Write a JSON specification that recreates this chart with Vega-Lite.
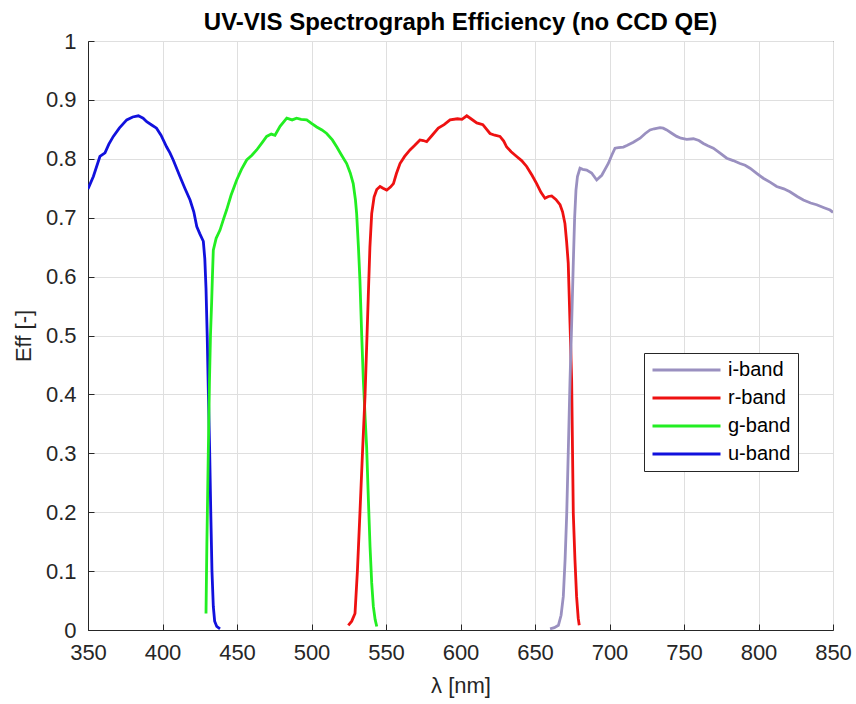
{
  "$schema": "https://vega.github.io/schema/vega-lite/v6.json",
  "width": 745,
  "height": 589,
  "autosize": {"type": "none"},
  "padding": {"left": 88, "top": 41, "right": 23, "bottom": 74},
  "background": "white",
  "title": {"text": "UV-VIS Spectrograph Efficiency (no CCD QE)", "fontSize": 24, "fontWeight": "bold", "color": "#000000", "font": "Liberation Sans", "offset": -5, "anchor": "middle"},
  "config": {
    "font": "Liberation Sans",
    "view": {"stroke": "#262626", "strokeWidth": 1},
    "axis": {
      "labelFontSize": 22, "labelColor": "#262626", "titleFontSize": 22, "titleFontWeight": "normal", "titleColor": "#262626",
      "domainColor": "#262626", "tickColor": "#262626", "gridColor": "#dfdfdf", "gridOpacity": 1, "tickSize": -6
    }
  },
  "data": {"values": [
    {"band":"u-band","wl":350,"eff":0.749},{"band":"u-band","wl":353.6,"eff":0.77},{"band":"u-band","wl":358,"eff":0.804},{"band":"u-band","wl":361.4,"eff":0.81},{"band":"u-band","wl":364,"eff":0.825},{"band":"u-band","wl":367,"eff":0.838},{"band":"u-band","wl":371,"eff":0.852},{"band":"u-band","wl":376,"eff":0.866},{"band":"u-band","wl":380,"eff":0.871},{"band":"u-band","wl":383.8,"eff":0.873},{"band":"u-band","wl":387,"eff":0.869},{"band":"u-band","wl":389.4,"eff":0.863},{"band":"u-band","wl":393,"eff":0.857},{"band":"u-band","wl":396,"eff":0.852},{"band":"u-band","wl":399,"eff":0.84},{"band":"u-band","wl":402.8,"eff":0.82},{"band":"u-band","wl":405,"eff":0.81},{"band":"u-band","wl":407.2,"eff":0.798},{"band":"u-band","wl":411.7,"eff":0.77},{"band":"u-band","wl":415,"eff":0.75},{"band":"u-band","wl":418.5,"eff":0.73},{"band":"u-band","wl":421,"eff":0.71},{"band":"u-band","wl":423,"eff":0.685},{"band":"u-band","wl":425,"eff":0.673},{"band":"u-band","wl":427.4,"eff":0.66},{"band":"u-band","wl":428.4,"eff":0.63},{"band":"u-band","wl":429.2,"eff":0.58},{"band":"u-band","wl":430,"eff":0.5},{"band":"u-band","wl":430.8,"eff":0.4},{"band":"u-band","wl":431.6,"eff":0.311},{"band":"u-band","wl":432.4,"eff":0.2},{"band":"u-band","wl":433.2,"eff":0.1},{"band":"u-band","wl":434.1,"eff":0.04},{"band":"u-band","wl":435,"eff":0.015},{"band":"u-band","wl":436.4,"eff":0.006},{"band":"u-band","wl":438.6,"eff":0.002},
    {"band":"g-band","wl":429.2,"eff":0.028},{"band":"g-band","wl":429.8,"eff":0.15},{"band":"g-band","wl":430.3,"eff":0.23},{"band":"g-band","wl":430.8,"eff":0.311},{"band":"g-band","wl":431.5,"eff":0.42},{"band":"g-band","wl":432.2,"eff":0.5},{"band":"g-band","wl":433,"eff":0.558},{"band":"g-band","wl":433.5,"eff":0.6},{"band":"g-band","wl":434.1,"eff":0.645},{"band":"g-band","wl":436,"eff":0.665},{"band":"g-band","wl":438.6,"eff":0.679},{"band":"g-band","wl":441,"eff":0.698},{"band":"g-band","wl":443,"eff":0.713},{"band":"g-band","wl":446,"eff":0.738},{"band":"g-band","wl":449.8,"eff":0.764},{"band":"g-band","wl":453,"eff":0.782},{"band":"g-band","wl":456.5,"eff":0.798},{"band":"g-band","wl":460,"eff":0.806},{"band":"g-band","wl":463.2,"eff":0.815},{"band":"g-band","wl":467,"eff":0.828},{"band":"g-band","wl":469.9,"eff":0.838},{"band":"g-band","wl":473,"eff":0.842},{"band":"g-band","wl":475.5,"eff":0.84},{"band":"g-band","wl":478.9,"eff":0.855},{"band":"g-band","wl":483.4,"eff":0.869},{"band":"g-band","wl":487,"eff":0.866},{"band":"g-band","wl":490,"eff":0.869},{"band":"g-band","wl":493,"eff":0.867},{"band":"g-band","wl":496.8,"eff":0.866},{"band":"g-band","wl":500,"eff":0.86},{"band":"g-band","wl":503.5,"eff":0.854},{"band":"g-band","wl":507,"eff":0.849},{"band":"g-band","wl":510.2,"eff":0.843},{"band":"g-band","wl":514,"eff":0.832},{"band":"g-band","wl":517,"eff":0.82},{"band":"g-band","wl":520,"eff":0.807},{"band":"g-band","wl":523.6,"eff":0.792},{"band":"g-band","wl":526,"eff":0.776},{"band":"g-band","wl":528,"eff":0.758},{"band":"g-band","wl":529.5,"eff":0.73},{"band":"g-band","wl":530.3,"eff":0.707},{"band":"g-band","wl":531.5,"eff":0.65},{"band":"g-band","wl":532.5,"eff":0.594},{"band":"g-band","wl":533.7,"eff":0.5},{"band":"g-band","wl":534.8,"eff":0.424},{"band":"g-band","wl":536,"eff":0.36},{"band":"g-band","wl":537,"eff":0.311},{"band":"g-band","wl":538.2,"eff":0.22},{"band":"g-band","wl":539.3,"eff":0.141},{"band":"g-band","wl":540.4,"eff":0.08},{"band":"g-band","wl":541.5,"eff":0.04},{"band":"g-band","wl":542.7,"eff":0.018},{"band":"g-band","wl":543.8,"eff":0.006},
    {"band":"r-band","wl":524.7,"eff":0.008},{"band":"r-band","wl":527,"eff":0.015},{"band":"r-band","wl":529.2,"eff":0.028},{"band":"r-band","wl":530.8,"eff":0.1},{"band":"r-band","wl":532.5,"eff":0.198},{"band":"r-band","wl":534.2,"eff":0.3},{"band":"r-band","wl":535.9,"eff":0.396},{"band":"r-band","wl":537,"eff":0.48},{"band":"r-band","wl":538.1,"eff":0.566},{"band":"r-band","wl":539.2,"eff":0.65},{"band":"r-band","wl":540.4,"eff":0.707},{"band":"r-band","wl":542,"eff":0.735},{"band":"r-band","wl":543.8,"eff":0.748},{"band":"r-band","wl":546,"eff":0.753},{"band":"r-band","wl":548,"eff":0.75},{"band":"r-band","wl":550.5,"eff":0.747},{"band":"r-band","wl":553,"eff":0.752},{"band":"r-band","wl":555,"eff":0.758},{"band":"r-band","wl":557,"eff":0.775},{"band":"r-band","wl":559.4,"eff":0.792},{"band":"r-band","wl":562.5,"eff":0.804},{"band":"r-band","wl":566.1,"eff":0.815},{"band":"r-band","wl":569,"eff":0.822},{"band":"r-band","wl":572.8,"eff":0.832},{"band":"r-band","wl":575,"eff":0.831},{"band":"r-band","wl":577.3,"eff":0.829},{"band":"r-band","wl":581,"eff":0.84},{"band":"r-band","wl":585.1,"eff":0.852},{"band":"r-band","wl":589,"eff":0.858},{"band":"r-band","wl":593,"eff":0.866},{"band":"r-band","wl":598,"eff":0.868},{"band":"r-band","wl":601,"eff":0.867},{"band":"r-band","wl":604.2,"eff":0.873},{"band":"r-band","wl":607,"eff":0.868},{"band":"r-band","wl":610.9,"eff":0.861},{"band":"r-band","wl":615,"eff":0.858},{"band":"r-band","wl":619.8,"eff":0.843},{"band":"r-band","wl":623,"eff":0.84},{"band":"r-band","wl":626.5,"eff":0.838},{"band":"r-band","wl":629,"eff":0.83},{"band":"r-band","wl":631,"eff":0.82},{"band":"r-band","wl":634,"eff":0.812},{"band":"r-band","wl":637.7,"eff":0.804},{"band":"r-band","wl":641,"eff":0.797},{"band":"r-band","wl":644.4,"eff":0.787},{"band":"r-band","wl":648,"eff":0.772},{"band":"r-band","wl":651.1,"eff":0.758},{"band":"r-band","wl":654,"eff":0.743},{"band":"r-band","wl":656.7,"eff":0.733},{"band":"r-band","wl":659,"eff":0.736},{"band":"r-band","wl":661.2,"eff":0.737},{"band":"r-band","wl":664,"eff":0.731},{"band":"r-band","wl":666.8,"eff":0.722},{"band":"r-band","wl":668.5,"eff":0.71},{"band":"r-band","wl":670.1,"eff":0.69},{"band":"r-band","wl":671.2,"eff":0.66},{"band":"r-band","wl":672.3,"eff":0.623},{"band":"r-band","wl":673.5,"eff":0.52},{"band":"r-band","wl":674.6,"eff":0.424},{"band":"r-band","wl":675.2,"eff":0.3},{"band":"r-band","wl":675.7,"eff":0.198},{"band":"r-band","wl":676.8,"eff":0.12},{"band":"r-band","wl":677.9,"eff":0.057},{"band":"r-band","wl":679,"eff":0.02},{"band":"r-band","wl":679.7,"eff":0.008},
    {"band":"i-band","wl":660.1,"eff":0.002},{"band":"i-band","wl":663,"eff":0.004},{"band":"i-band","wl":665.7,"eff":0.008},{"band":"i-band","wl":667.5,"eff":0.025},{"band":"i-band","wl":669,"eff":0.057},{"band":"i-band","wl":670.2,"eff":0.12},{"band":"i-band","wl":671.3,"eff":0.198},{"band":"i-band","wl":672.4,"eff":0.31},{"band":"i-band","wl":673.5,"eff":0.424},{"band":"i-band","wl":674.6,"eff":0.52},{"band":"i-band","wl":675.7,"eff":0.623},{"band":"i-band","wl":676.6,"eff":0.7},{"band":"i-band","wl":677.5,"eff":0.747},{"band":"i-band","wl":678.5,"eff":0.77},{"band":"i-band","wl":680.2,"eff":0.784},{"band":"i-band","wl":682,"eff":0.782},{"band":"i-band","wl":684.7,"eff":0.781},{"band":"i-band","wl":688,"eff":0.776},{"band":"i-band","wl":691.4,"eff":0.764},{"band":"i-band","wl":694.8,"eff":0.772},{"band":"i-band","wl":697,"eff":0.782},{"band":"i-band","wl":699.2,"eff":0.792},{"band":"i-band","wl":701.5,"eff":0.806},{"band":"i-band","wl":703.7,"eff":0.818},{"band":"i-band","wl":706,"eff":0.819},{"band":"i-band","wl":709.3,"eff":0.82},{"band":"i-band","wl":712,"eff":0.823},{"band":"i-band","wl":716,"eff":0.828},{"band":"i-band","wl":720.5,"eff":0.835},{"band":"i-band","wl":724,"eff":0.843},{"band":"i-band","wl":727.2,"eff":0.849},{"band":"i-band","wl":730,"eff":0.851},{"band":"i-band","wl":733.9,"eff":0.853},{"band":"i-band","wl":736,"eff":0.852},{"band":"i-band","wl":738.4,"eff":0.849},{"band":"i-band","wl":742,"eff":0.843},{"band":"i-band","wl":745.1,"eff":0.838},{"band":"i-band","wl":748,"eff":0.835},{"band":"i-band","wl":751.8,"eff":0.833},{"band":"i-band","wl":756.3,"eff":0.834},{"band":"i-band","wl":760,"eff":0.831},{"band":"i-band","wl":763,"eff":0.826},{"band":"i-band","wl":766,"eff":0.822},{"band":"i-band","wl":769.7,"eff":0.818},{"band":"i-band","wl":774,"eff":0.81},{"band":"i-band","wl":778.7,"eff":0.801},{"band":"i-band","wl":783,"eff":0.797},{"band":"i-band","wl":787.6,"eff":0.792},{"band":"i-band","wl":791,"eff":0.789},{"band":"i-band","wl":794.3,"eff":0.784},{"band":"i-band","wl":799,"eff":0.775},{"band":"i-band","wl":803.2,"eff":0.767},{"band":"i-band","wl":808,"eff":0.76},{"band":"i-band","wl":812.2,"eff":0.753},{"band":"i-band","wl":817,"eff":0.749},{"band":"i-band","wl":821.1,"eff":0.744},{"band":"i-band","wl":826,"eff":0.736},{"band":"i-band","wl":830.1,"eff":0.73},{"band":"i-band","wl":835,"eff":0.725},{"band":"i-band","wl":839,"eff":0.722},{"band":"i-band","wl":844,"eff":0.717},{"band":"i-band","wl":848,"eff":0.713},{"band":"i-band","wl":850,"eff":0.709}
  ]},
  "mark": {"type": "line", "strokeWidth": 2.8, "clip": true},
  "encoding": {
    "x": {"field": "wl", "type": "quantitative", "scale": {"domain": [350, 850], "nice": false, "zero": false},
      "axis": {"title": "λ [nm]", "values": [350,400,450,500,550,600,650,700,750,800,850], "labelPadding": 18, "titlePadding": 12, "labelFlush": false}},
    "y": {"field": "eff", "type": "quantitative", "scale": {"domain": [0, 1], "nice": false},
      "axis": {"title": "Eff [-]", "values": [0,0.1,0.2,0.3,0.4,0.5,0.6,0.7,0.8,0.9,1], "format": "~g", "labelPadding": 18, "titlePadding": 10, "labelFlush": false}},
    "color": {"field": "band", "type": "nominal",
      "scale": {"domain": ["i-band","r-band","g-band","u-band"], "range": ["#9a90c0","#ee1111","#22ee22","#1111dd"]},
      "legend": {"title": null, "orient": "none", "legendX": 556, "legendY": 312, "symbolType": "M-1,0H7", "symbolStrokeWidth": 3, "symbolSize": 289, "labelFontSize": 20, "labelColor": "#000000", "strokeColor": "#262626", "fillColor": "white", "padding": 7, "rowPadding": 8, "labelOffset": 57}},
    "order": {"field": "band"}
  }
}
